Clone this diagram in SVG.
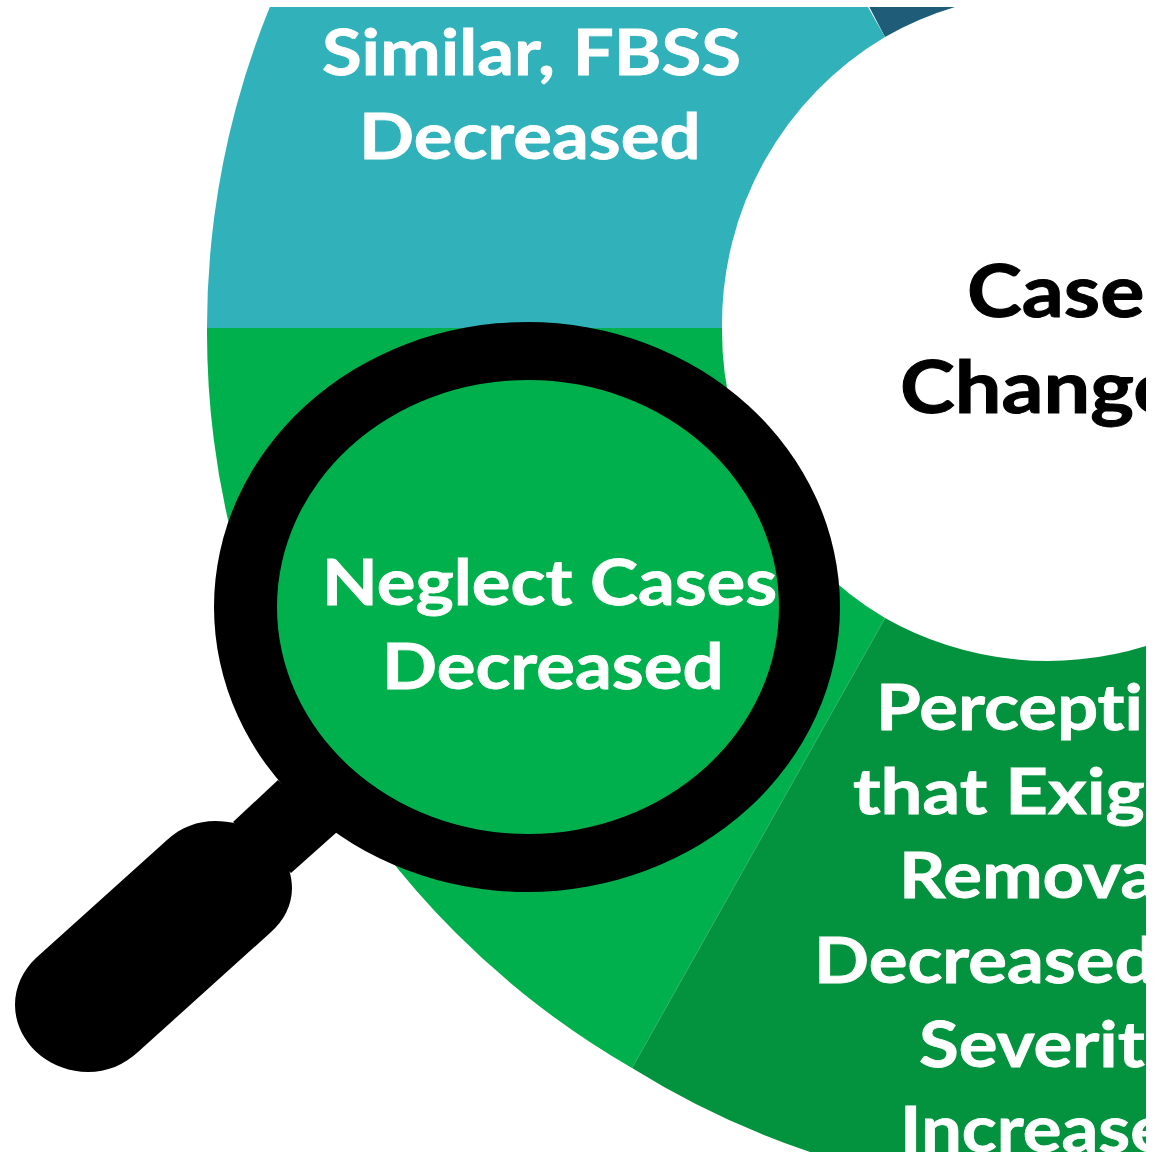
<svg xmlns="http://www.w3.org/2000/svg" width="1155" height="1156" viewBox="0 0 1155 1156">
<style>
.w{font-family:"Lato","Liberation Sans",sans-serif;font-weight:700;font-size:64px;fill:#fff;font-variant-ligatures:none;stroke:#fff;stroke-width:.8}
.k{font-family:"Lato","Liberation Sans",sans-serif;font-weight:700;font-size:72px;fill:#000;font-variant-ligatures:none;stroke:#000;stroke-width:1}
</style>
<defs><clipPath id="c"><rect x="0" y="7" width="1146" height="1145"/></clipPath></defs>
<rect width="1155" height="1156" fill="#fff"/>
<g id="wheel" clip-path="url(#c)">
<g id="seg-teal">
<path d="M850 -30L885 37A332 334 0 0 1 955 7L1000 -30Z" fill="#1F5C78"/>
<path d="M207 328A849 849 0 0 1 632 -408L885 37A332 334 0 0 0 722 328Z" fill="#31B2BA"/>
<text class="w" transform="translate(322 75) scale(1.133 1)">Similar, FBSS</text>
<text class="w" transform="translate(359 159) scale(1.133 1)">Decreased</text>
</g>
<g id="seg-green">
<path d="M207 328H722A332 334 0 0 0 885 618L632 1068A849 849 0 0 1 207 328Z" fill="#00B04C"/>
</g>
<g id="seg-dark">
<path d="M885 618A332 334 0 0 0 1146 646V1176H860L813 1153A849 849 0 0 1 632 1068Z" fill="#03923D"/>
<path d="M885 618L632 1068" fill="none" stroke="#2DB066" stroke-width="1"/>
<text class="w" transform="translate(876 730) scale(1.133 1)">Percepti</text>
<text class="w" transform="translate(853 814) scale(1.16 1)">that Exig</text>
<text class="w" transform="translate(899 898) scale(1.133 1)">Remova</text>
<text class="w" transform="translate(814 983) scale(1.133 1)">Decreased</text>
<text class="w" transform="translate(919 1067) scale(1.133 1)">Severit</text>
<text class="w" transform="translate(900 1152) scale(1.133 1)">Increase</text>
</g>
<g id="hub">
<text class="k" transform="translate(967 317) scale(1.15 1)">Case</text>
<text class="k" transform="translate(900 413) scale(1.15 1)">Change</text>
</g>
</g>
<g id="magnifier">
<ellipse cx="527" cy="607" rx="251" ry="227" fill="#00B04C"/>
<text class="w" transform="translate(322 605) scale(1.133 1)">Neglect Cases</text>
<text class="w" transform="translate(382 689) scale(1.133 1)">Decreased</text>
<path fill-rule="evenodd" d="M214 607A313 285 0 1 1 840 607A313 285 0 1 1 214 607ZM277 607A251 227 0 1 0 779 607A251 227 0 1 0 277 607Z" fill="#000"/>
<path d="M278 780L337 832L291 873L233 822Z" fill="#000"/>
<path d="M36 958L167 840C181 827 198 821 215 821C258 821 292 852 292 888C292 905 284 921 270 933L138 1052C124 1065 107 1072 88 1072C48 1072 15 1041 15 1005C15 987 23 970 36 958Z" fill="#000"/>
</g>
</svg>
